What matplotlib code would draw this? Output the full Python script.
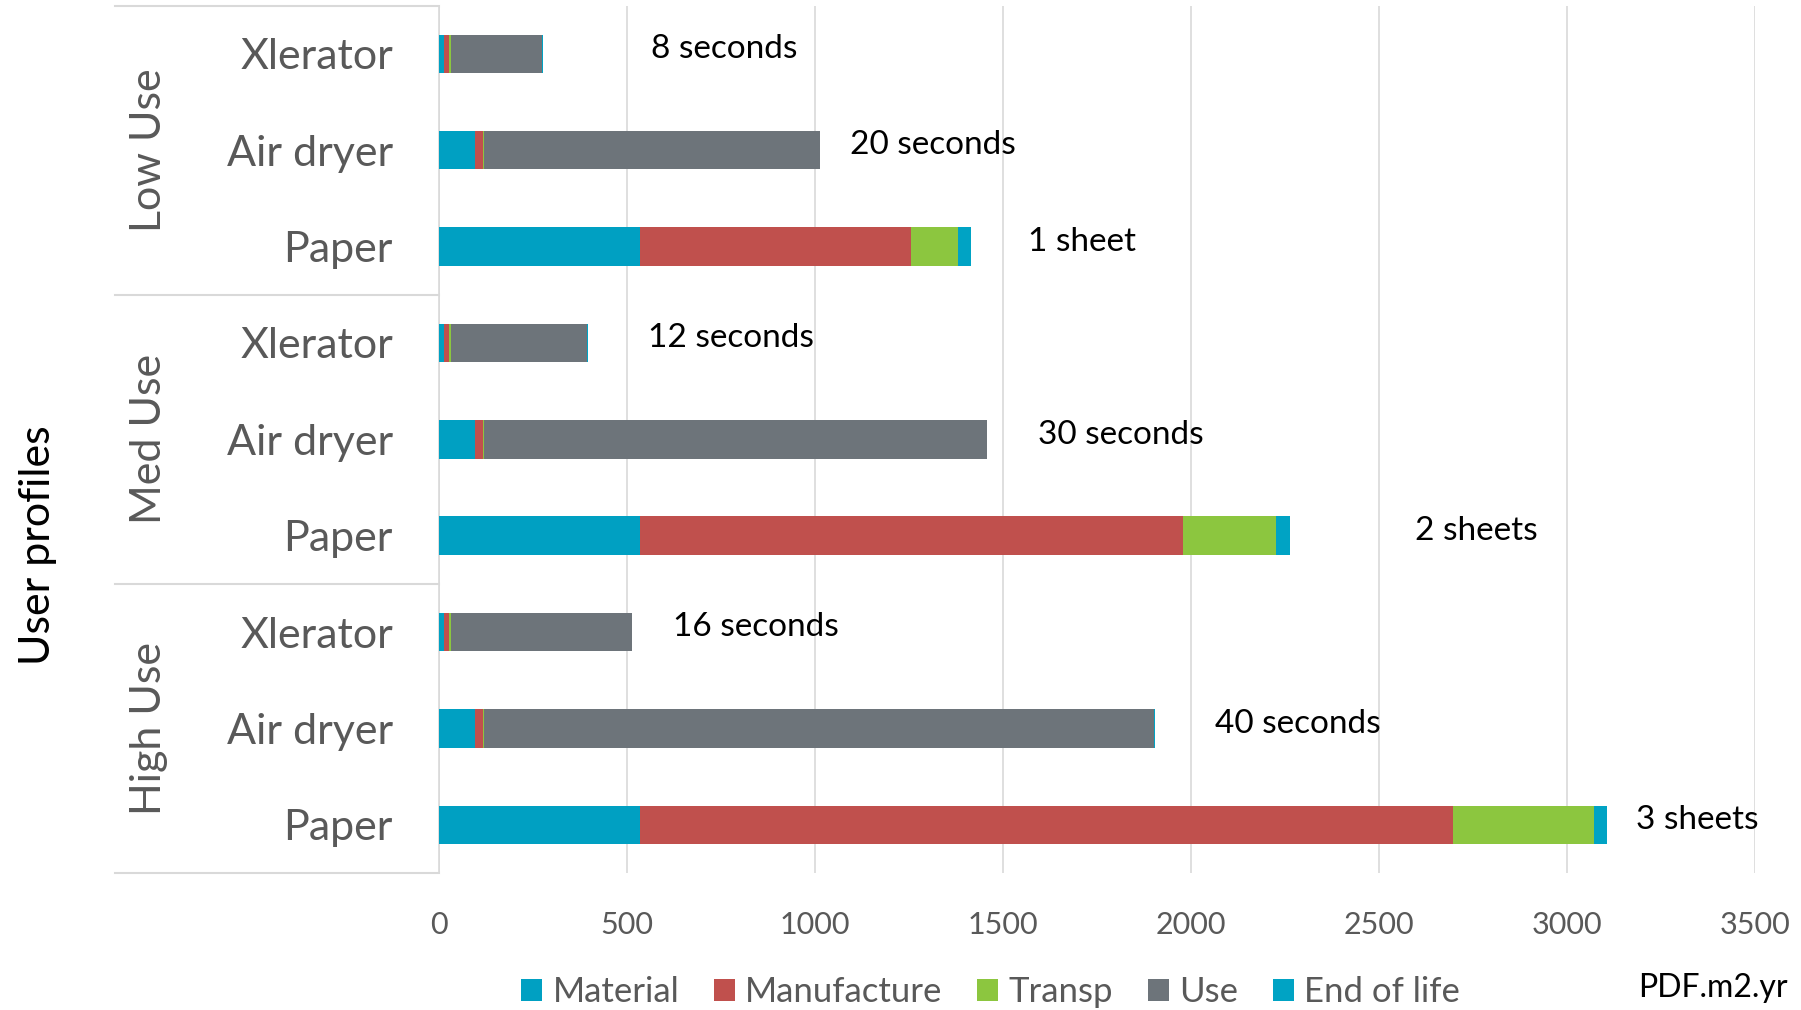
import matplotlib
matplotlib.use("Agg")
import matplotlib.pyplot as plt
from matplotlib.patches import Patch
import numpy as np

plt.rcParams['font.family'] = ['Lato', 'DejaVu Sans']

# rows top to bottom
groups = ["Low Use", "Med Use", "High Use"]
products = ["Xlerator", "Air dryer", "Paper"]
stages = ["Material", "Manufacture", "Transp", "Use", "End of life"]

material = [15, 96, 535, 15, 96, 535, 15, 96, 535]
manufacture = [13, 23, 720, 13, 23, 1444, 13, 23, 2162]
transp = [5, 2, 126, 5, 2, 248, 5, 2, 374]
use = [241, 893, 0, 361, 1336, 0, 480, 1782, 0]
end_of_life = [2, 1, 35, 2, 1, 37, 2, 1, 36]

notes = ["8 seconds", "20 seconds", "1 sheet",
         "12 seconds", "30 seconds", "2 sheets",
         "16 seconds", "40 seconds", "3 sheets"]
note_x = [565, 1093, 1567, 556, 1594, 2596, 623, 2065, 3183]

colors = ["#00A0C2", "#C0504D", "#8CC63F", "#6D747A", "#00A3C4"]
gray_txt = "#595959"

fig = plt.figure(figsize=(18.01, 10.10), dpi=100)
ax = fig.add_axes([0.2436, 0.1356, 0.7309, 0.8588])

y = np.arange(len(material))
left = np.zeros(len(material))
for vals, c, name in zip([material, manufacture, transp, use, end_of_life], colors, stages):
    ax.barh(y, vals, left=left, height=0.4, color=c, label=name, zorder=3)
    left += np.array(vals)

for i, (t, xv) in enumerate(zip(notes, note_x)):
    ax.text(xv, i - 0.05, t, fontsize=24, color="black", va="center", ha="left")

ax.set_ylim(8.5, -0.5)
ax.set_xlim(0, 3500)
ax.set_xticks(np.arange(0, 3501, 500))
ax.xaxis.grid(True, color="#D9D9D9", linewidth=1.2, zorder=0)
ax.set_yticks(y)
ax.set_yticklabels(products * 3, fontsize=31, color=gray_txt)
ax.tick_params(axis="y", length=0, pad=33)
ax.tick_params(axis="x", length=0, pad=27, labelsize=22, labelcolor=gray_txt)
for s in ["top", "right", "bottom"]:
    ax.spines[s].set_visible(False)
ax.spines["left"].set_color("#D9D9D9")
ax.spines["left"].set_linewidth(1.2)

# multi-level category separators and group labels
trans = matplotlib.transforms.blended_transform_factory(ax.transAxes, ax.transData)
for b in [-0.5, 2.5, 5.5, 8.5]:
    ax.plot([-0.246, 0], [b, b], transform=trans, color="#D9D9D9",
            linewidth=1.5, clip_on=False)
for g, gy in zip(groups, [1, 4, 7]):
    ax.text(-0.22, gy, g, transform=trans, rotation=90, fontsize=31,
            color=gray_txt, ha="center", va="center")

fig.text(0.021, 0.46, "User profiles", rotation=90, fontsize=31,
         color="black", ha="center", va="center")
fig.text(0.951, 0.022, "PDF.m2.yr", fontsize=23, color="black",
         ha="center", va="center")

handles = [Patch(facecolor=c, edgecolor="none") for c in colors]
fig.legend(handles, stages, loc="center", bbox_to_anchor=(0.55, 0.018),
           ncol=5, frameon=False, fontsize=25, labelcolor=gray_txt,
           handlelength=0.6, handleheight=0.6, handletextpad=0.3,
           columnspacing=1.0)

fig.savefig("out.png", dpi=100)
